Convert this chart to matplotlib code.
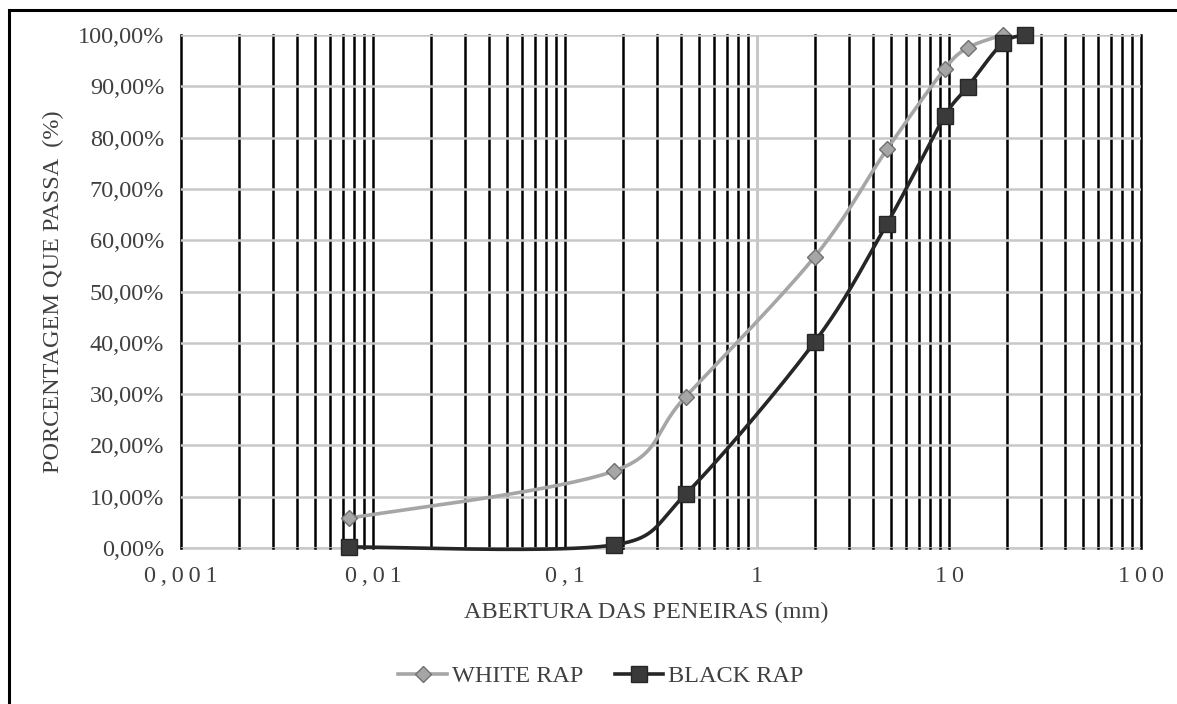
import numpy as np
import matplotlib
matplotlib.use('Agg')
import matplotlib.pyplot as plt
from matplotlib.patches import Rectangle
from matplotlib.lines import Line2D
from matplotlib.ticker import FixedLocator, FuncFormatter

# Sieve openings (mm) and percent passing
white_x = [0.0075, 0.18, 0.425, 2.0, 4.75, 9.5, 12.5, 19.0]
white_y = [5.8, 15.0, 29.5, 56.8, 77.7, 93.4, 97.5, 100.0]
black_x = [0.0075, 0.18, 0.425, 2.0, 4.75, 9.5, 12.5, 19.0, 25.0]
black_y = [0.2, 0.6, 10.5, 40.2, 63.2, 84.2, 89.9, 98.4, 100.0]

x_ticks = [0.001, 0.01, 0.1, 1, 10, 100]
x_tick_labels = ['0,001', '0,01', '0,1', '1', '10', '100']
y_ticks = [0, 10, 20, 30, 40, 50, 60, 70, 80, 90, 100]

SERIF = ['Liberation Serif', 'DejaVu Serif']
plt.rcParams['font.family'] = SERIF
FS = 17.5
TXT = '#404040'


def smooth(ax, xs, ys, n=40):
    """Smoothed line: bezier through the points, built in display space."""
    pts = ax.transData.transform(np.column_stack([xs, ys]))
    p = np.vstack([pts[0], pts, pts[-1]])
    out = []
    for i in range(1, len(p) - 2):
        p0, p1, p2, p3 = p[i - 1], p[i], p[i + 1], p[i + 2]
        seg_len = np.hypot(*(p2 - p1))
        t1 = (p2 - p0) / 6.0
        t2 = (p3 - p1) / 6.0
        # keep the handles within half of the segment
        t1 *= min(1.0, 0.5 * seg_len / max(np.hypot(*t1), 1e-9))
        t2 *= min(1.0, 0.5 * seg_len / max(np.hypot(*t2), 1e-9))
        c1 = p1 + t1
        c2 = p2 - t2
        t = np.linspace(0, 1, n)[:, None]
        seg = ((1 - t) ** 3 * p1 + 3 * (1 - t) ** 2 * t * c1
               + 3 * (1 - t) * t ** 2 * c2 + t ** 3 * p2)
        out.append(seg if i == 1 else seg[1:])
    out = np.vstack(out)
    data = ax.transData.inverted().transform(out)
    return data[:, 0], data[:, 1]


fig = plt.figure(figsize=(11.77, 7.04), dpi=100)
ax = fig.add_axes([181 / 1177, 1 - 548 / 704, 960 / 1177, 513 / 704])

ax.set_xscale('log')
ax.set_xlim(0.001, 100)
ax.set_ylim(0, 100)

# horizontal gridlines (gray) and vertical gridlines
ax.yaxis.set_major_locator(FixedLocator(y_ticks))
ax.grid(axis='y', color='#c8c8c8', lw=1.8, zorder=0)
for dec in range(-3, 2):
    for m in range(1, 10):
        xv = m * 10.0 ** dec
        if xv == 1:
            ax.axvline(xv, color='#c8c8c8', lw=2.2, zorder=1)
        else:
            ax.axvline(xv, color='black', lw=1.8, zorder=1, clip_on=False)
ax.axvline(100, color='black', lw=1.8, zorder=1, clip_on=False)

for s in ['left', 'right', 'top']:
    ax.spines[s].set_visible(False)
ax.spines['bottom'].set_color('#c8c8c8')
ax.spines['bottom'].set_linewidth(1.8)
ax.spines['bottom'].set_zorder(0.5)

ax.xaxis.set_major_locator(FixedLocator(x_ticks))
ax.xaxis.set_minor_locator(FixedLocator([]))
ax.set_xticklabels(['\u2009'.join(lbl) for lbl in x_tick_labels])
ax.yaxis.set_major_formatter(FuncFormatter(lambda v, p: f'{v:.2f}%'.replace('.', ',')))
ax.tick_params(length=0, labelsize=FS, labelcolor=TXT, pad=12)
ax.tick_params(axis='x', pad=13)
for lbl in ax.get_xticklabels() + ax.get_yticklabels():
    lbl.set_family(SERIF)

ax.set_xlabel('ABERTURA DAS PENEIRAS (mm)', fontsize=FS, color=TXT, labelpad=9)
ax.xaxis.set_label_coords((646 - 181) / 960, -0.105)
ax.set_ylabel('PORCENTAGEM QUE PASSA  (%)', fontsize=FS, color=TXT, labelpad=10)

fig.canvas.draw()
wx, wy = smooth(ax, white_x, white_y)
bx, by = smooth(ax, black_x, black_y)
ax.plot(wx, wy, color='#a6a6a6', lw=2.6, zorder=3, solid_capstyle='round', clip_on=False)
ax.plot(white_x, white_y, ls='none', marker='D', ms=8, mfc='#a6a6a6',
        mec='#707070', mew=1.0, zorder=4, clip_on=False)
ax.plot(bx, by, color='#262626', lw=2.6, zorder=5, solid_capstyle='round', clip_on=False)
ax.plot(black_x, black_y, ls='none', marker='s', ms=11, mfc='#3a3a3a',
        mec='#262626', mew=1.0, zorder=6, clip_on=False)

handles = [
    Line2D([], [], color='#a6a6a6', lw=2.6, marker='D', ms=8, mfc='#a6a6a6', mec='#707070'),
    Line2D([], [], color='#262626', lw=2.6, marker='s', ms=11, mfc='#3a3a3a', mec='#262626'),
]
fig.legend(handles, ['WHITE RAP', 'BLACK RAP'], loc='center', bbox_to_anchor=(601 / 1177, 1 - 676 / 704),
           ncol=2, frameon=False, fontsize=FS, handlelength=2.0, handletextpad=0.2,
           columnspacing=1.3, labelcolor=TXT)

# outer frame around the chart area
fig.patches.append(Rectangle((9 / 1177, -0.05), 1.2, 1 - 10 / 704 + 0.05, transform=fig.transFigure,
                             fill=False, ec='black', lw=2.2))

fig.savefig('out.png', dpi=100)
